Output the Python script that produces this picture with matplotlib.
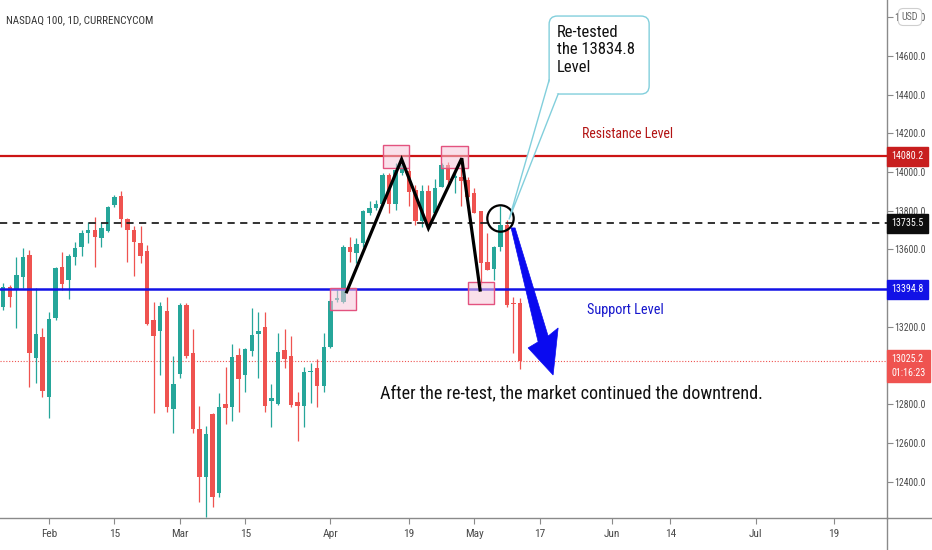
import numpy as np
import pandas as pd
import matplotlib
matplotlib.use('Agg')
import matplotlib.pyplot as plt
from matplotlib.patches import FancyBboxPatch, Polygon, Rectangle
from matplotlib.transforms import blended_transform_factory
from matplotlib.lines import Line2D

NARROW = ['Roboto Condensed', 'DejaVu Sans Condensed', 'Roboto', 'DejaVu Sans']
plt.rcParams['font.family'] = NARROW
plt.rcParams['font.stretch'] = 'condensed'

# ---------------- data ----------------
title = 'NASDAQ 100, 1D, CURRENCYCOM'
start_date = '2021-01-21'   # first visible daily candle

opens = [13304, 13407, 13390, 13457, 13571, 13039, 13147,
         12837, 13245, 13509, 13442, 13561, 13612, 13685, 13700, 13659, 13695,
         13830, 13876, 13757, 13700, 13633, 13592, 13235, 13178, 13282, 12775,
         12956, 13313, 13065, 12672, 12424, 12749, 12341, 12801, 12785, 13054,
         12951, 13075, 13163, 13199, 12817, 12801, 13080, 13049, 12811, 12791,
         12966, 12987, 12894, 13096, 13339, 13328, 13612, 13581, 13633, 13788,
         13814, 13835, 13984, 13835, 13995, 14005, 13907, 13747, 13902, 13788,
         13923, 14036, 13969, 13974, 13959, 13892, 13798, 13535, 13499, 13612,
         13726, 13323, 13323]
highs = [13426, 13416, 13562, 13607, 13597, 13400, 13194,
         13276, 13509, 13587, 13576, 13638, 13700, 13742, 13767, 13742, 13824,
         13881, 13902, 13762, 13721, 13721, 13623, 13328, 13328, 13354, 13050,
         13323, 13323, 13189, 12791, 12687, 12754, 12858, 12992, 13111, 13090,
         13090, 13297, 13276, 13276, 12904, 13168, 13189, 13152, 12863, 12992,
         13013, 13034, 13168, 13344, 13400, 13623, 13664, 13659, 13804, 13850,
         13855, 13995, 13995, 14047, 14060, 14021, 13933, 13933, 13933, 13964,
         14047, 14052, 14016, 14067, 13974, 13917, 13798, 13685, 13620, 13824,
         13752, 13354, 13349]
lows = [13287, 13304, 13194, 13400, 12889, 12910, 12837,
        12729, 13235, 13390, 13344, 13519, 13566, 13633, 13509, 13612, 13690,
        13819, 13716, 13535, 13463, 13530, 13209, 12754, 12951, 12760, 12651,
        12935, 13039, 12651, 12295, 12217, 12269, 12320, 12698, 12713, 12760,
        12863, 13049, 12935, 12760, 12682, 12796, 12987, 12785, 12610, 12682,
        12806, 12785, 12863, 13090, 13328, 13323, 13535, 13530, 13612, 13778,
        13805, 13830, 13788, 13804, 13984, 13824, 13726, 13716, 13711, 13778,
        13923, 13933, 13892, 13824, 13866, 13788, 13416, 13494, 13442, 13592,
        13302, 13065, 12982]
closes = [13407, 13356, 13468, 13561, 13065, 13163, 12868,
          13240, 13504, 13421, 13566, 13607, 13685, 13700, 13664, 13711, 13819,
          13871, 13757, 13700, 13638, 13566, 13214, 13152, 13307, 12785, 12904,
          13313, 13049, 12672, 12424, 12646, 12320, 12785, 12780, 13044, 12930,
          13085, 13158, 13178, 12791, 12832, 13070, 13034, 12796, 12791, 12966,
          12972, 12894, 13096, 13333, 13349, 13612, 13587, 13628, 13798, 13814,
          13835, 13984, 13835, 14010, 14036, 13897, 13747, 13902, 13736, 13917,
          14036, 13959, 13979, 13954, 13871, 13788, 13530, 13494, 13612, 13726,
          13313, 13318, 13025.2]

resistance_level = 14080.2
retest_level = 13735.5
support_level = 13394.8
last_price = 13025.2
countdown = '01:16:23'

tick_dates = ['2021-02-01', '2021-02-15', '2021-03-01', '2021-03-15', '2021-04-01',
              '2021-04-19', '2021-05-03', '2021-05-17', '2021-06-01', '2021-06-14',
              '2021-07-01', '2021-07-19']
tick_labels = ['Feb', '15', 'Mar', '15', 'Apr', '19', 'May', '17', 'Jun', '14', 'Jul', '19']
price_ticks = np.arange(12400, 14801, 200)
hidden_price_ticks = [13000, 13400]   # covered by the price labels on the scale

# drawing annotations (bar index, price)
pattern_x = [52.5, 60.9, 65.0, 70.1, 72.9]
pattern_y = [13381, 14066, 13709, 14071, 13390]
zones = [(49.95, 54.0, 13287, 13400), (58.0, 62.1, 14019, 14139),
         (66.9, 71.0, 14019, 14134), (71.0, 75.1, 13318, 13433)]
circle_xy = (76.0, 13761)
arrow_x = [77.64, 78.25, 83.30, 84.83, 84.06, 80.24, 81.77]
arrow_y = [13711, 13711, 13152, 13194, 12951, 13091, 13122]

# ---------------- figure ----------------
W, H = 932, 550
fig = plt.figure(figsize=(W / 100, H / 100), dpi=100)
fig.patch.set_facecolor('white')
ax = fig.add_axes([0, 32 / H, 887 / W, 518 / H])
ax.set_facecolor('white')

days = pd.bdate_range(start_date, '2021-08-31')
pos = {d.strftime('%Y-%m-%d'): i for i, d in enumerate(days)}
xs = np.arange(len(opens))
o = np.array(opens, float); c = np.array(closes, float)
hi = np.array(highs, float); lo = np.array(lows, float)

xmin, xmax = -0.49, 135.1
ymin, ymax = 12211.9, 14888.9
ax.set_xlim(xmin, xmax)
ax.set_ylim(ymin, ymax)
xpp = (xmax - xmin) / 887.0
ypp = (ymax - ymin) / 518.0

GREEN, RED = '#26a69a', '#ef5350'
cols = np.where(c >= o, GREEN, RED)
ax.vlines(xs, lo, hi, colors=cols, lw=0.9, zorder=3)
ax.bar(xs, np.maximum(np.abs(c - o), 1.2 * ypp), bottom=np.minimum(o, c),
       width=0.68, color=cols, lw=0, zorder=4)

# horizontal levels
ax.axhline(resistance_level, color='#cc1414', lw=1.6, zorder=5)
ax.axhline(retest_level, color='#222222', lw=1.3, ls=(0, (4, 3)), zorder=5)
ax.axhline(support_level, color='#1212e6', lw=1.8, zorder=5)
ax.axhline(last_price, color=RED, lw=0.8, ls=(0, (1, 1.6)), zorder=2)

# zones
for x0, x1, y0, y1 in zones:
    ax.add_patch(Rectangle((x0, y0), x1 - x0, y1 - y0, fc=(0.97, 0.78, 0.85, 0.55),
                           ec='#e3527f', lw=1.0, zorder=6))

# pattern
ax.plot(pattern_x, pattern_y, color='black', lw=2.3, zorder=7, solid_joinstyle='miter')
ax.plot([circle_xy[0]], [circle_xy[1]], marker='o', ms=19, mfc='none', mec='black',
        mew=1.6, zorder=8)

# blue arrow
ax.add_patch(Polygon(list(zip(arrow_x, arrow_y)), closed=True, fc='#0a0af0',
                     ec='#0a0af0', lw=0.5, zorder=8))

# labels
ax.text(95.4, 14196, 'Resistance Level', color='#b31414', fontsize=10,
        ha='center', va='center', zorder=9)
ax.text(95.1, 13287, 'Support Level', color='#1515cc', fontsize=10.3,
        ha='center', va='center', zorder=9)
ax.text(86.8, 12832, 'After the re-test, the market continued the downtrend.',
        color='#111111', fontsize=13.1, ha='center', va='baseline', zorder=9)

# callout
CY = '#82cfdc'
bx0, bx1, by0, by1 = 83.45, 98.74, 14403, 14806
ax.add_patch(FancyBboxPatch((bx0, by0), bx1 - bx0, by1 - by0,
                            boxstyle='round,pad=0,rounding_size=1.25',
                            mutation_aspect=ypp / xpp, fc='white', ec=CY, lw=1.0,
                            zorder=10))
tail_p1 = (bx0, 14475)
tail_tip = (77.34, 13757)
tail_p2 = (84.83, by0)
ax.add_patch(Polygon([tail_p1, tail_tip, tail_p2, (bx0 + 0.4, by0 + 20)], closed=True,
                     fc='white', ec='none', zorder=11))
ax.plot([tail_p1[0], tail_tip[0], tail_p2[0]], [tail_p1[1], tail_tip[1], tail_p2[1]],
        color=CY, lw=1.0, zorder=12)
ax.text(84.68, 14762, 'Re-tested\nthe 13834.8\nLevel', color='#111111', fontsize=12,
        ha='left', va='top', linespacing=1.22, zorder=13)

# axes styling
for s in ['top', 'left']:
    ax.spines[s].set_visible(False)
for s in ['right', 'bottom']:
    ax.spines[s].set_color('#8a8a8a')
    ax.spines[s].set_linewidth(1.0)
ax.yaxis.tick_right()
ax.set_yticks(price_ticks)
ax.set_yticklabels(['' if v in hidden_price_ticks else f'{v:.1f}' for v in price_ticks])
ax.set_xticks([pos[d] for d in tick_dates])
ax.set_xticklabels(tick_labels)
ax.tick_params(axis='y', length=4, color='#8a8a8a', labelcolor='#4a4a4a',
               labelsize=7, pad=1.5)
ax.tick_params(axis='x', length=4, color='#8a8a8a', labelcolor='#4a4a4a',
               labelsize=8.2, pad=4)
fig.add_artist(Line2D([887 / W, 887 / W], [0, 32 / H], transform=fig.transFigure,
                      color='#8a8a8a', lw=1.0))
fig.add_artist(Line2D([887 / W, 1], [32 / H, 32 / H], transform=fig.transFigure,
                      color='#8a8a8a', lw=1.0))

# price labels on the scale
btr = blended_transform_factory(ax.transAxes, ax.transData)
def scale_label(price, text, bg, va='center', dy=0):
    ax.annotate(text, xy=(1, price), xycoords=btr, xytext=(3.2, dy),
                textcoords='offset points', ha='left', va=va, color='white',
                fontsize=7.2, linespacing=1.4, annotation_clip=False,
                bbox=dict(boxstyle='square,pad=0.45', fc=bg, ec=bg), zorder=20)

scale_label(resistance_level, f'{resistance_level:.1f}', '#c81e1e')
scale_label(retest_level, f'{retest_level:.1f}', '#0d0d0d')
scale_label(support_level, f'{support_level:.1f}', '#1212e6')
scale_label(last_price, f'{last_price:.1f}\n{countdown}', RED, va='top', dy=4.5)

# title and currency
fig.text(6 / W, 1 - 20 / H, title, color='#333333', fontsize=7.9, ha='left', va='center')
fig.text(910 / W, 1 - 17 / H, 'USD', color='#666666', fontsize=7.2, ha='center',
         va='center', zorder=30,
         bbox=dict(boxstyle='round,pad=0.35,rounding_size=0.5', fc='white',
                   ec='#cfcfcf', lw=0.8))

fig.savefig('out.png', dpi=100, facecolor='white')
